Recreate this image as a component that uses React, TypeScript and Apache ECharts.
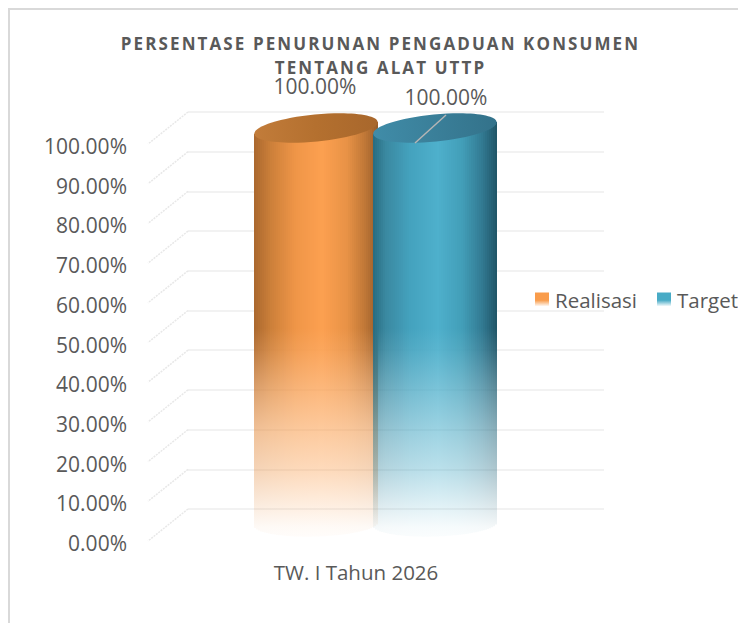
import React, { useEffect, useRef } from "react";
import * as echarts from "echarts";

const categories = ["TW. I Tahun 2026"];
const seriesNames = ["Realisasi", "Target"];
const realisasi = [100];
const target = [100];
const tickValues = [0, 10, 20, 30, 40, 50, 60, 70, 80, 90, 100];
const titleLines = ["PERSENTASE PENURUNAN PENGADUAN KONSUMEN", "TENTANG ALAT UTTP"];

const FONT = "'Open Sans', sans-serif";
const TEXT = "#595959";

const shades: [number, number[]][][] = [
  [[0, [170, 104, 46]], [0.14, [205, 128, 58]], [0.34, [240, 150, 72]], [0.55, [252, 160, 80]], [0.75, [232, 146, 70]], [0.9, [190, 118, 54]], [1, [150, 92, 42]]],
  [[0, [40, 108, 128]], [0.1, [58, 136, 160]], [0.3, [68, 162, 190]], [0.52, [78, 176, 204]], [0.72, [66, 158, 184]], [0.88, [50, 122, 146]], [1, [32, 84, 102]]],
];
const centreColors = [
  [252, 160, 80],
  [78, 176, 204],
];
const lowerMix = [0.7, 0.25];
// offset down the cylinder, opacity, how far the side shading has flattened
const fadeStops = [
  [0, 1, 0],
  [0.51, 1, 0],
  [0.56, 0.93, 0.2],
  [0.65, 0.75, 0.6],
  [0.75, 0.55, 1],
  [0.84, 0.38, 1],
  [0.91, 0.2, 1],
  [0.97, 0.05, 1],
  [1, 0.02, 1],
];
const capColors = [
  ["#c27c3a", "#b4702f", "#a8672c"],
  ["#408ca8", "#3a7f99", "#33728a"],
];
const legendColors = [
  ["#f99c4b", "#f99c4b", "#ffffff"],
  ["#48abc6", "#48abc6", "#ffffff"],
];

function shadeAt(stops: [number, number[]][], u: number) {
  for (let i = 1; i < stops.length; i++) {
    if (u <= stops[i][0]) {
      const [a, ca] = stops[i - 1];
      const [b, cb] = stops[i];
      const t = (u - a) / (b - a);
      return ca.map((c, k) => Math.round(c + (cb[k] - c) * t));
    }
  }
  return stops[stops.length - 1][1];
}

const DEPTH_X = 40;
const DEPTH_Y = 32;

function cylinder(seriesIdx: number) {
  return (_params: any, api: any) => {
    const value = api.value(1);
    const [cx0, topBack] = api.coord([api.value(0), value]);
    const [, baseBack] = api.coord([api.value(0), 0]);
    const rx = 62;
    const ry = 13.5;
    const slope = -0.097;
    const cx = cx0 - DEPTH_X / 2 + (seriesIdx === 0 ? -60 : 59);
    const cyTop = topBack + DEPTH_Y / 2;
    const cyBase = baseBack + DEPTH_Y / 2 - 1;
    const gTop = cyTop - 20;
    const gBottom = cyBase + 16;
    const children: any[] = [];
    const left = Math.round(cx - rx);
    const right = Math.round(cx + rx);
    const step = 2;
    for (let x = left; x < right; x += step) {
      const u = (x + step / 2 - left) / (right - left);
      const t = u * 2 - 1;
      const yTop = Math.round(cyTop + slope * (x - cx));
      const yBot = cyBase + slope * 0.3 * (x - cx) + (ry - 1) * Math.sqrt(Math.max(0, 1 - t * t));
      const col = shadeAt(shades[seriesIdx], u);
      const colorStops = fadeStops.map(([offset, alpha, flat]) => {
        const m = flat * lowerMix[seriesIdx];
        const [r, g, b] = col.map((v, k) => Math.round(v + (centreColors[seriesIdx][k] - v) * m));
        return { offset, color: `rgba(${r},${g},${b},${alpha})` };
      });
      children.push({
        type: "rect",
        shape: { x, y: yTop, width: step, height: yBot - yTop },
        style: { fill: new echarts.graphic.LinearGradient(0, gTop, 0, gBottom, colorStops, true) },
      });
    }
    children.push({
      type: "ellipse",
      shape: { cx: 0, cy: 0, rx, ry },
      x: cx,
      y: cyTop,
      rotation: 0.097,
      style: {
        fill: new echarts.graphic.LinearGradient(0, 0, 1, 0, [
          { offset: 0, color: capColors[seriesIdx][0] },
          { offset: 0.5, color: capColors[seriesIdx][1] },
          { offset: 1, color: capColors[seriesIdx][2] },
        ]),
      },
    });
    const label = `${value.toFixed(2)}%`;
    if (seriesIdx === 1) {
      children.push({
        type: "line",
        shape: { x1: cx - 20, y1: cyTop + 15, x2: cx + 11, y2: cyTop - 13 },
        style: { stroke: "#b5b5b5", lineWidth: 1.5 },
      });
    }
    children.push({
      type: "text",
      x: seriesIdx === 0 ? cx - 1 : cx + 11,
      y: seriesIdx === 0 ? cyTop - 42 : cyTop - 31,
      style: { text: label, fill: TEXT, font: `21px ${FONT}`, align: "center", verticalAlign: "middle" },
    });
    return { type: "group", children };
  };
}

export default function App() {
  const ref = useRef<HTMLDivElement>(null);
  useEffect(() => {
    document.body.style.margin = "0";
    const chart = echarts.init(ref.current!, null, { renderer: "svg" });
    const legendGrad = (cs: string[]) =>
      new echarts.graphic.LinearGradient(0, 0, 0, 1, [
        { offset: 0, color: cs[0] },
        { offset: 0.55, color: cs[1] },
        { offset: 1, color: cs[2] },
      ]);
    chart.setOption({
      animation: false,
      backgroundColor: "#ffffff",
      title: {
        text: titleLines.join("\n"),
        left: 375.5,
        top: 26,
        textAlign: "center",
        textStyle: { fontFamily: FONT, fontSize: 17, fontWeight: "bold", color: TEXT, lineHeight: 24.5 },
      },
      legend: {
        left: 530,
        top: 284,
        width: 300,
        orient: "horizontal",
        itemWidth: 14,
        itemHeight: 14,
        itemGap: 20,
        icon: "rect",
        textStyle: { fontFamily: FONT, fontSize: 20.5, color: TEXT, padding: [0, 0, 0, 1] },
        data: seriesNames.map((name, i) => ({ name, itemStyle: { color: legendGrad(legendColors[i]) } })),
      },
      graphic: [
        {
          type: "rect",
          silent: true,
          shape: { x: 9, y: 9, width: 760, height: 700 },
          style: { fill: "none", stroke: "#d9d9d9", lineWidth: 2 },
        },
      ],
      grid: [
        { left: 188, top: 112, width: 416, height: 397 },
        { left: 148, top: 146, width: 416, height: 397 },
      ],
      xAxis: [
        { gridIndex: 0, type: "category", data: categories, axisLine: { show: false }, axisTick: { show: false }, axisLabel: { show: false } },
        {
          gridIndex: 1,
          type: "category",
          data: categories,
          axisLine: { show: false },
          axisTick: { show: false },
          axisLabel: { margin: 18, fontFamily: FONT, fontSize: 20.5, color: TEXT },
        },
      ],
      yAxis: [
        {
          gridIndex: 0,
          type: "value",
          min: 0,
          max: 100,
          interval: 10,
          axisLine: { show: false },
          axisTick: { show: false },
          axisLabel: { show: false },
          splitLine: { show: true, lineStyle: { color: "#f2f2f2", width: 2 } },
        },
        {
          gridIndex: 1,
          type: "value",
          min: 0,
          max: 100,
          interval: 10,
          axisLine: { show: false },
          axisTick: { show: false },
          splitLine: { show: false },
          axisLabel: { margin: 21, fontFamily: FONT, fontSize: 21, color: TEXT, formatter: (v: number) => `${v.toFixed(2)}%` },
        },
      ],
      series: [
        {
          type: "custom",
          name: "wall",
          silent: true,
          xAxisIndex: 0,
          yAxisIndex: 0,
          clip: false,
          encode: { x: 0, y: 1 },
          data: tickValues.map((v) => [0, v]),
          renderItem: (_p: any, api: any) => {
            const y = api.coord([0, api.value(1)])[1];
            const x = 188;
            return {
              type: "line",
              shape: { x1: x, y1: y, x2: x - DEPTH_X, y2: y + DEPTH_Y },
              style: { stroke: "#e8e8e8", lineWidth: 1.5, lineDash: [2, 1] },
            };
          },
        },
        ...seriesNames.map((name, i) => ({
          type: "custom",
          name,
          silent: true,
          xAxisIndex: 0,
          yAxisIndex: 0,
          clip: false,
          encode: { x: 0, y: 1 },
          data: (i === 0 ? realisasi : target).map((v, k) => [k, v]),
          itemStyle: { color: legendColors[i][0] },
          renderItem: cylinder(i),
        })),
      ],
    });
    ref.current!.querySelectorAll("text").forEach((t) => {
      if (titleLines.some((l) => (t.textContent || "").includes(l))) {
        (t as SVGTextElement).style.letterSpacing = "2.1px";
      }
    });
    return () => chart.dispose();
  }, []);
  return <div ref={ref} style={{ position: "absolute", left: 0, top: 0, width: 738, height: 623 }} />;
}
